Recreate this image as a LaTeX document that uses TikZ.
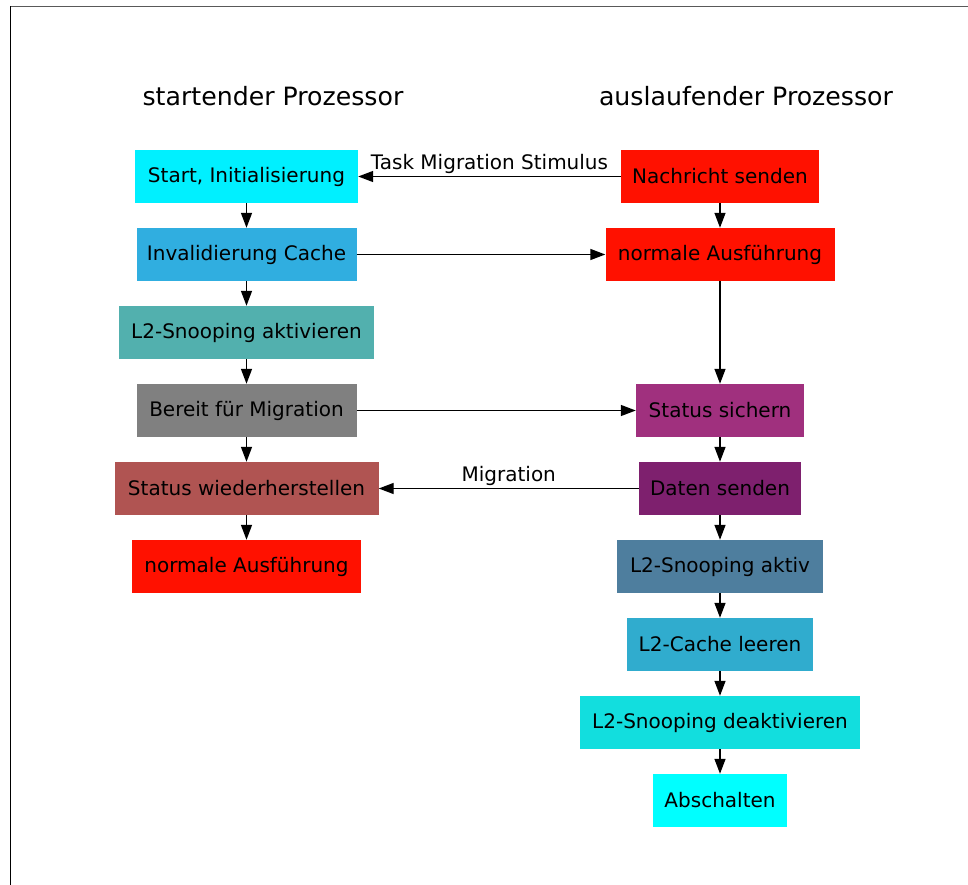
\documentclass[tikz,border=0pt]{standalone}
\usepackage{fontspec}
\setmainfont{DejaVu Sans}
\usetikzlibrary{arrows.meta}
\definecolor{cStart}{HTML}{00F0FF}
\definecolor{cInval}{HTML}{30AEE0}
\definecolor{cSnoopOn}{HTML}{52B0AE}
\definecolor{cReady}{HTML}{808080}
\definecolor{cRestore}{HTML}{B05452}
\definecolor{cRun}{HTML}{FF1100}
\definecolor{cSave}{HTML}{A0307E}
\definecolor{cSend}{HTML}{7E206E}
\definecolor{cSnoopAct}{HTML}{4E7E9E}
\definecolor{cFlush}{HTML}{30ACCE}
\definecolor{cSnoopOff}{HTML}{12DEDE}
\definecolor{cOff}{HTML}{00FFFF}
\begin{document}
\begin{tikzpicture}[x=1pt,y=-1pt,
  box/.style={draw=none, inner sep=0pt, minimum height=53pt,
    font=\fontsize{20}{22}\selectfont, text=black},
  flow/.style={-{Triangle[length=15pt,width=11pt]}, line width=1.4pt},
  lbl/.style={font=\fontsize{20}{22}\selectfont, inner sep=2pt},
  head/.style={font=\fontsize{25.2}{29}\selectfont}]
\useasboundingbox (0,0) rectangle (968,885);
% frame lines
\draw[black!65, line width=1.8pt] (10,6.5) -- (968,6.5);
\draw[black, line width=1.6pt] (10.5,6.5) -- (10.5,885);

% column headings
\node[head] (hl) at (273,96) {startender Prozessor};
\node[head] (hr) at (746,96) {auslaufender Prozessor};

% starting processor
\node[box, fill=cStart,    minimum width=223pt] (s1) at (246.5,176.5) {Start, Initialisierung};
\node[box, fill=cInval,    minimum width=220pt] (s2) at (246.5,254.5) {Invalidierung Cache};
\node[box, fill=cSnoopOn,  minimum width=255pt] (s3) at (246.5,332.5) {L2-Snooping aktivieren};
\node[box, fill=cReady,    minimum width=220pt] (s4) at (246.5,410.5) {Bereit für Migration};
\node[box, fill=cRestore,  minimum width=264pt] (s5) at (246.5,488.5) {Status wiederherstellen};
\node[box, fill=cRun,      minimum width=229pt] (s6) at (246.5,566.5) {normale Ausführung};

% retiring processor
\node[box, fill=cRun,      minimum width=198pt] (a1) at (720,176.5) {Nachricht senden};
\node[box, fill=cRun,      minimum width=229pt] (a2) at (720,254.5) {normale Ausführung};
\node[box, fill=cSave,     minimum width=168pt] (a3) at (720,410.5) {Status sichern};
\node[box, fill=cSend,     minimum width=162pt] (a4) at (720,488.5) {Daten senden};
\node[box, fill=cSnoopAct, minimum width=206pt] (a5) at (720,566.5) {L2-Snooping aktiv};
\node[box, fill=cFlush,    minimum width=186pt] (a6) at (720,644.5) {L2-Cache leeren};
\node[box, fill=cSnoopOff, minimum width=280pt] (a7) at (720,722.5) {L2-Snooping deaktivieren};
\node[box, fill=cOff,      minimum width=134pt] (a8) at (720,800.5) {Abschalten};

% vertical flow
\foreach \u/\v in {s1/s2,s2/s3,s3/s4,s4/s5,s5/s6,a1/a2,a2/a3,a3/a4,a4/a5,a5/a6,a6/a7,a7/a8}
  \draw[flow] (\u.south) -- (\v.north);

% messages between the processors
\draw[flow] (a1.west) -- node[lbl, above, yshift=0pt] {Task Migration Stimulus} (s1.east);
\draw[flow] (s2.east) -- (a2.west);
\draw[flow] (s4.east) -- (a3.west);
\draw[flow] (a4.west) -- node[lbl, above, yshift=0pt] {Migration} (s5.east);
\end{tikzpicture}
\end{document}
